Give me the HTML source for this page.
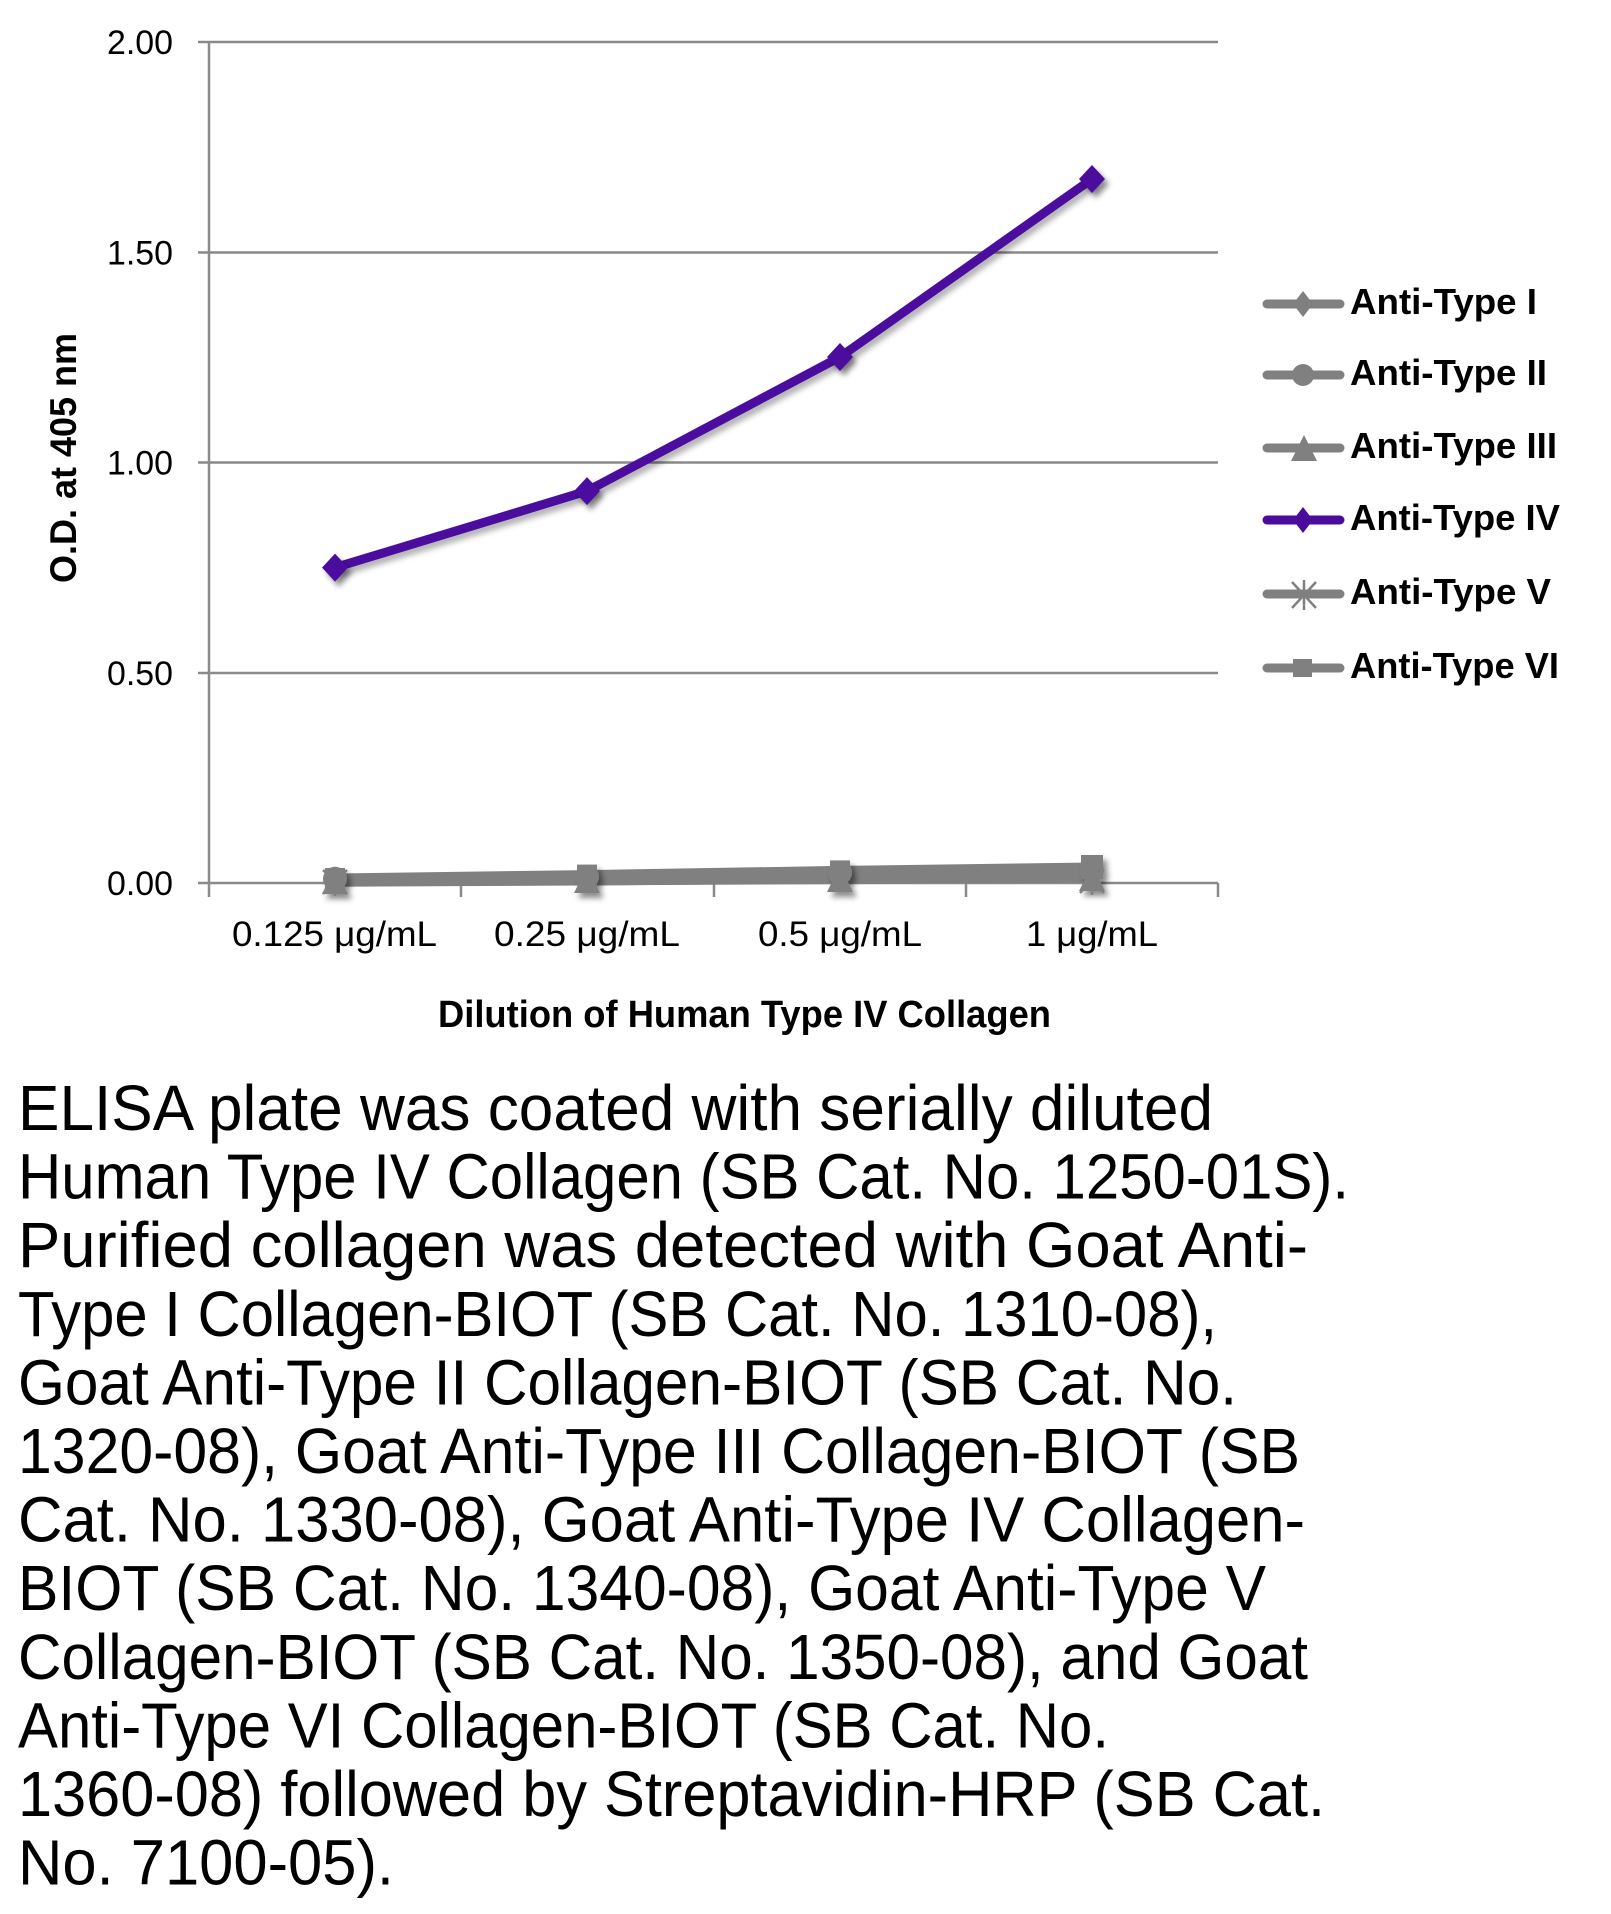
<!DOCTYPE html>
<html>
<head>
<meta charset="utf-8">
<style>
html,body{margin:0;padding:0;background:#fff;}
svg{display:block;}
</style>
</head>
<body>
<svg width="1611" height="1914" viewBox="0 0 1611 1914" xmlns="http://www.w3.org/2000/svg">
<defs>
<filter id="sh" x="-20%" y="-20%" width="150%" height="150%">
<feDropShadow dx="4" dy="5" stdDeviation="3" flood-color="#000" flood-opacity="0.45"/>
</filter>
<filter id="shl" x="-10%" y="-10%" width="130%" height="130%">
<feDropShadow dx="3" dy="5" stdDeviation="3" flood-color="#000" flood-opacity="0.3"/>
</filter>
</defs>
<rect width="1611" height="1914" fill="#fff"/>

<!-- gridlines -->
<g stroke="#8a8a8a" stroke-width="2.5">
<line x1="198" y1="42" x2="1218" y2="42"/>
<line x1="198" y1="252.5" x2="1218" y2="252.5"/>
<line x1="198" y1="462.5" x2="1218" y2="462.5"/>
<line x1="198" y1="673" x2="1218" y2="673"/>
<line x1="198" y1="883" x2="1218" y2="883"/>
<line x1="209" y1="42" x2="209" y2="897"/>
<line x1="461" y1="883" x2="461" y2="897"/>
<line x1="714" y1="883" x2="714" y2="897"/>
<line x1="966" y1="883" x2="966" y2="897"/>
<line x1="1218" y1="883" x2="1218" y2="897"/>
</g>

<!-- y tick labels -->
<g font-family="Liberation Sans, sans-serif" font-size="34" fill="#000" text-anchor="end">
<text x="173" y="54" textLength="66" lengthAdjust="spacingAndGlyphs">2.00</text>
<text x="173" y="264.5" textLength="66" lengthAdjust="spacingAndGlyphs">1.50</text>
<text x="173" y="474.5" textLength="66" lengthAdjust="spacingAndGlyphs">1.00</text>
<text x="173" y="685" textLength="66" lengthAdjust="spacingAndGlyphs">0.50</text>
<text x="173" y="895" textLength="66" lengthAdjust="spacingAndGlyphs">0.00</text>
</g>

<!-- x tick labels -->
<g font-family="Liberation Sans, sans-serif" font-size="35" fill="#000">
<text x="232" y="946" textLength="205" lengthAdjust="spacingAndGlyphs">0.125 μg/mL</text>
<text x="494" y="946" textLength="186" lengthAdjust="spacingAndGlyphs">0.25 μg/mL</text>
<text x="758" y="946" textLength="164" lengthAdjust="spacingAndGlyphs">0.5 μg/mL</text>
<text x="1026" y="946" textLength="132" lengthAdjust="spacingAndGlyphs">1 μg/mL</text>
</g>

<!-- axis titles -->
<text x="438" y="1027" font-family="Liberation Sans, sans-serif" font-weight="bold" font-size="38" textLength="613" lengthAdjust="spacingAndGlyphs">Dilution of Human Type IV Collagen</text>
<text transform="translate(76,583) rotate(-90)" x="0" y="0" font-family="Liberation Sans, sans-serif" font-weight="bold" font-size="37" textLength="250" lengthAdjust="spacingAndGlyphs">O.D. at 405 nm</text>

<!-- gray series -->
<g stroke="#808080" stroke-width="9" fill="none" stroke-linejoin="round">
<polyline points="335,881.7 587,880.9 840,879.6 1092,878.2"/>
<polyline points="335,882.2 587,881 840,878.8 1092,877.8"/>
<polyline points="335,879.6 587,878 840,875.4 1092,874.6"/>
<polyline points="335,878.8 587,876.7 840,872.5 1092,870.4"/>
<polyline points="335,878 587,874.6 840,870.4 1092,867"/>
</g>
<g fill="#808080" filter="url(#sh)">
<polygon points="335,866.6 347,879.6 335,892.6 323,879.6"/>
<polygon points="587,865 599,878 587,891 575,878"/>
<polygon points="840,862.4 852,875.4 840,888.4 828,875.4"/>
<polygon points="1092,861.6 1104,874.6 1092,887.6 1080,874.6"/>
<circle cx="335" cy="878.8" r="12"/>
<circle cx="587" cy="876.7" r="12"/>
<circle cx="840" cy="872.5" r="12"/>
<circle cx="1092" cy="870.4" r="12"/>
<polygon points="335,868 348,894 322,894"/>
<polygon points="587,867 600,893 574,893"/>
<polygon points="840,866 853,892 827,892"/>
<polygon points="1092,865 1105,891 1079,891"/>
<rect x="325" y="868" width="20" height="20"/>
<rect x="577" y="864.6" width="20" height="20"/>
<rect x="830" y="860.4" width="20" height="20"/>
<rect x="1081" y="855" width="22" height="24"/>
</g>
<g stroke="#808080" stroke-width="2.5">
<path d="M323,870 L347,894 M347,870 L323,894 M335,868 L335,896"/>
<path d="M1080,869 L1104,893 M1104,869 L1080,893 M1092,867 L1092,895"/>
</g>

<!-- purple series -->
<polyline points="335,567.6 587,491.1 840,357 1092,179" fill="none" stroke="#4B0C9E" stroke-width="9" stroke-linejoin="round" filter="url(#shl)"/>
<g fill="#4B0C9E" filter="url(#sh)">
<polygon points="335,553.6 348,567.6 335,581.6 322,567.6"/>
<polygon points="587,477.1 600,491.1 587,505.1 574,491.1"/>
<polygon points="840,343 853,357 840,371 827,357"/>
<polygon points="1092,165 1105,179 1092,193 1079,179"/>
</g>

<!-- legend -->
<g transform="translate(0,2)">
<g stroke-width="9" stroke-linecap="round">
<line x1="1267" y1="302" x2="1340" y2="302" stroke="#808080"/>
<line x1="1267" y1="373" x2="1340" y2="373" stroke="#808080"/>
<line x1="1267" y1="446" x2="1340" y2="446" stroke="#808080"/>
<line x1="1267" y1="518" x2="1340" y2="518" stroke="#4B0C9E"/>
<line x1="1267" y1="592" x2="1340" y2="592" stroke="#808080"/>
<line x1="1267" y1="666" x2="1340" y2="666" stroke="#808080"/>
</g>
<polygon points="1303,289 1313,302 1303,315 1293,302" fill="#808080"/>
<circle cx="1303" cy="373" r="11" fill="#808080"/>
<polygon points="1304,433 1317,459 1291,459" fill="#808080"/>
<polygon points="1303,505 1313,518 1303,531 1293,518" fill="#4B0C9E"/>
<g stroke="#808080" stroke-width="2.5">
<path d="M1292,580 L1316,606 M1316,580 L1292,606 M1304,578 L1304,608"/>
</g>
<rect x="1293" y="657" width="19" height="18" fill="#808080"/>

<g font-family="Liberation Sans, sans-serif" font-weight="bold" font-size="36" fill="#000">
<text x="1350" y="312" textLength="187" lengthAdjust="spacingAndGlyphs">Anti-Type I</text>
<text x="1350" y="383" textLength="197" lengthAdjust="spacingAndGlyphs">Anti-Type II</text>
<text x="1350" y="456" textLength="207" lengthAdjust="spacingAndGlyphs">Anti-Type III</text>
<text x="1350" y="528" textLength="210" lengthAdjust="spacingAndGlyphs">Anti-Type IV</text>
<text x="1350" y="602" textLength="201" lengthAdjust="spacingAndGlyphs">Anti-Type V</text>
<text x="1350" y="676" textLength="209" lengthAdjust="spacingAndGlyphs">Anti-Type VI</text>
</g>
</g>

<!-- caption -->
<g font-family="Liberation Sans, sans-serif" font-size="64" fill="#000">
<text x="18" y="1130" textLength="1195" lengthAdjust="spacingAndGlyphs">ELISA plate was coated with serially diluted</text>
<text x="18" y="1198.6" textLength="1331" lengthAdjust="spacingAndGlyphs">Human Type IV Collagen (SB Cat. No. 1250-01S).</text>
<text x="18" y="1267.2" textLength="1290" lengthAdjust="spacingAndGlyphs">Purified collagen was detected with Goat Anti-</text>
<text x="18" y="1335.8" textLength="1199" lengthAdjust="spacingAndGlyphs">Type I Collagen-BIOT (SB Cat. No. 1310-08),</text>
<text x="18" y="1404.4" textLength="1219" lengthAdjust="spacingAndGlyphs">Goat Anti-Type II Collagen-BIOT (SB Cat. No.</text>
<text x="18" y="1473" textLength="1282" lengthAdjust="spacingAndGlyphs">1320-08), Goat Anti-Type III Collagen-BIOT (SB</text>
<text x="18" y="1541.6" textLength="1287" lengthAdjust="spacingAndGlyphs">Cat. No. 1330-08), Goat Anti-Type IV Collagen-</text>
<text x="18" y="1610.2" textLength="1248" lengthAdjust="spacingAndGlyphs">BIOT (SB Cat. No. 1340-08), Goat Anti-Type V</text>
<text x="18" y="1678.8" textLength="1290" lengthAdjust="spacingAndGlyphs">Collagen-BIOT (SB Cat. No. 1350-08), and Goat</text>
<text x="18" y="1747.4" textLength="1091" lengthAdjust="spacingAndGlyphs">Anti-Type VI Collagen-BIOT (SB Cat. No.</text>
<text x="18" y="1816" textLength="1307" lengthAdjust="spacingAndGlyphs">1360-08) followed by Streptavidin-HRP (SB Cat.</text>
<text x="18" y="1884.6" textLength="376" lengthAdjust="spacingAndGlyphs">No. 7100-05).</text>
</g>
</svg>
</body>
</html>
